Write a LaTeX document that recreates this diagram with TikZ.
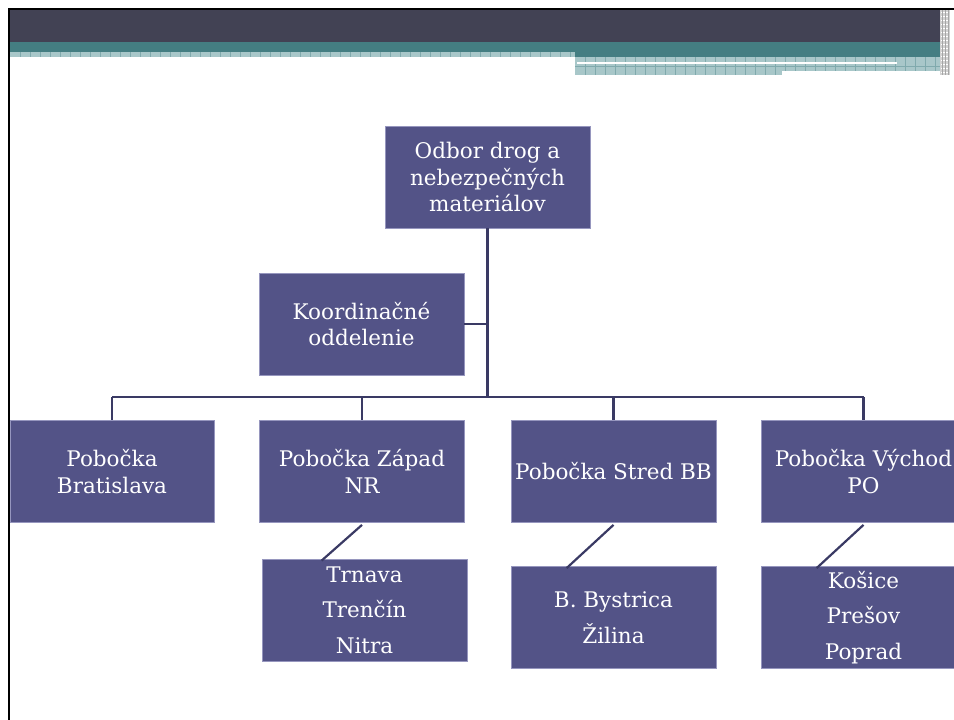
\documentclass[tikz,border=0pt]{standalone}
\usepackage{fontspec}
\setmainfont{DejaVu Serif}
\definecolor{boxfill}{RGB}{83,83,135}
\definecolor{boxedge}{RGB}{150,150,190}
\definecolor{linecol}{RGB}{58,58,100}
\definecolor{darkbar}{RGB}{66,66,84}
\definecolor{tealbar}{RGB}{68,126,130}
\definecolor{hatch}{RGB}{168,199,201}
\definecolor{hatchline}{RGB}{128,170,173}
\begin{document}
\begin{tikzpicture}[x=1pt,y=-1pt,
  orgbox/.style={draw=boxedge,line width=0.8pt,fill=boxfill,text=white,align=center,
    minimum width=205pt,minimum height=102pt,inner sep=1pt,font=\fontsize{21.5}{26.5}\selectfont},
  conn/.style={draw=linecol,line width=2.2pt}]
\useasboundingbox (0,0) rectangle (954,720);
\clip (0,0) rectangle (954,720);
% header
\fill[darkbar] (10,10) rectangle (940,42);
\fill[tealbar] (10,42) rectangle (940,52);
\fill[tealbar] (575,52) rectangle (940,57);
\fill[hatch] (10,52) rectangle (575,57);
\fill[hatch] (575,57) rectangle (940,75);
\foreach \i in {20,30,...,570} \draw[hatchline,line width=0.6pt] (\i,52) -- (\i,57);
\foreach \i in {585,595,...,935} \draw[hatchline,line width=0.6pt] (\i,57) -- (\i,75);
\draw[hatchline,line width=0.6pt] (575,66) -- (940,66);
\fill[white] (577,62) rectangle (897,63.6);
\fill[white] (782,71) rectangle (954,76);
\fill[gray!35] (940,10) rectangle (950,75);
\foreach \j in {12,16,...,72} \draw[white,line width=0.8pt] (941,\j) -- (949,\j);
\foreach \i in {942,945,948} \draw[gray!70,line width=0.5pt] (\i,10) -- (\i,75);
% frame
\fill[black] (8,8) rectangle (954,10);
\fill[black] (8,8) rectangle (10,720);
% boxes
\node[orgbox] (top) at (487.5,177) {Odbor drog a\\nebezpečných\\materiálov};
\node[orgbox] (koord) at (361.5,324) {Koordinačné\\oddelenie};
\node[orgbox,minimum width=204pt] (ba) at (112,471.5) {Pobočka\\Bratislava};
\node[orgbox] (zapad) at (362,471.5) {Pobočka Západ\\NR};
\node[orgbox] (stred) at (613.5,471.5) {Pobočka Stred BB};
\node[orgbox] (vychod) at (863.5,471.5) {Pobočka Východ\\PO};
\node[orgbox] (trnava) at (364.5,610) {Trnava\\[9pt]Trenčín\\[9pt]Nitra};
\node[orgbox] (bb) at (613.5,617.5) {B. Bystrica\\[9pt]Žilina};
\node[orgbox] (kosice) at (863.5,617.5) {Košice\\[9pt]Prešov\\[9pt]Poprad};
% connectors
\coordinate (hub) at (487.5,397);
\coordinate (barL) at (112,397);
\coordinate (barR) at (863.5,397);
\draw[conn] (top.south) -- (hub);
\draw[conn] (koord.east) -- (koord.east -| top.south);
\draw[conn] (barL) -- (barR);
\draw[conn] (barL) -- (ba.north);
\draw[conn] (zapad.north |- hub) -- (zapad.north);
\draw[conn] (stred.north |- hub) -- (stred.north);
\draw[conn] (barR) -- (vychod.north);
\draw[conn] ([yshift=-2pt]zapad.south) -- ([xshift=60pt,yshift=-2pt]trnava.north west);
\draw[conn] ([yshift=-2pt]stred.south) -- ([xshift=56pt,yshift=-2pt]bb.north west);
\draw[conn] ([yshift=-2pt]vychod.south) -- ([xshift=56pt,yshift=-2pt]kosice.north west);
\end{tikzpicture}
\end{document}
